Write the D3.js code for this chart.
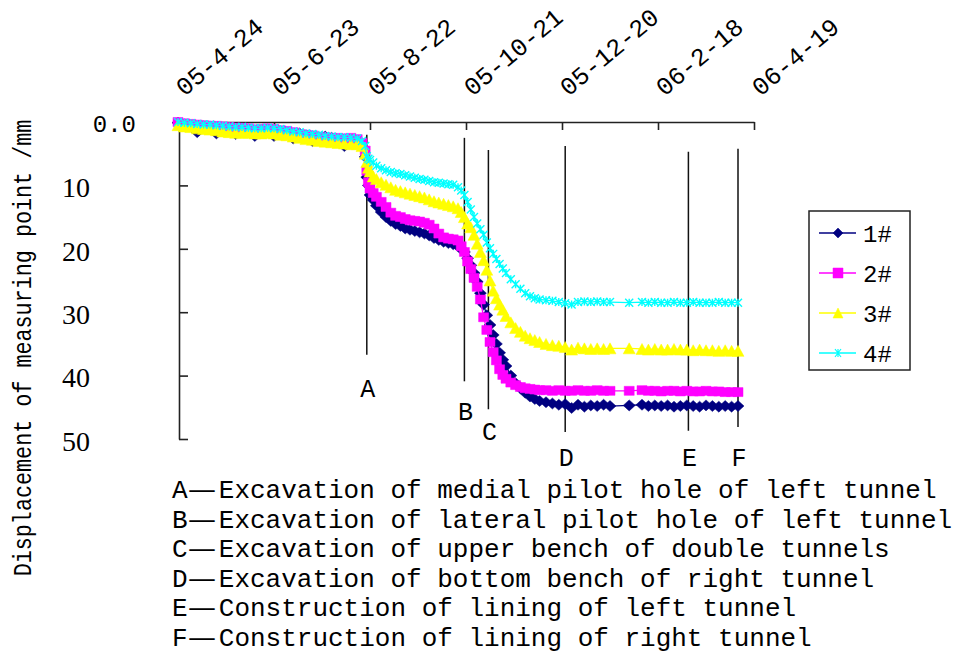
<!DOCTYPE html>
<html>
<head>
<meta charset="utf-8">
<script src="https://cdn.jsdelivr.net/npm/d3@7"></script>
<style>
  html, body { margin: 0; padding: 0; background: #fff; }
  svg { display: block; }
</style>
</head>
<body>
<svg id="chart" width="955" height="656"></svg>
<script>
// ---- Measurement data: surface settlement of four monitoring points ----
const startDate = new Date(2005, 3, 24);

// date axis: one tick every 60 days
const tickDays = [0, 60, 120, 180, 240, 300, 360];
const tickLabels = ["05-4-24", "05-6-23", "05-8-22", "05-10-21", "05-12-20", "06-2-18", "06-4-19"];

const yTicks = [0, 10, 20, 30, 40, 50];
const yTickLabels = ["0.0", "10", "20", "30", "40", "50"];

// survey days, counted from 2005-04-24
const days = [
  0, 4, 8, 12, 16, 20, 24, 28, 32, 36, 40, 44, 48, 52, 56, 60, 64, 68, 72, 76,
  80, 84, 88, 92, 96, 100, 104, 108, 112, 115,
  117, 118, 119, 120, 122, 124, 127, 130, 133, 136, 139, 142, 145, 148, 151, 154,
  157, 160, 163, 166, 169, 172, 175, 177, 179, 181, 183, 185, 187, 189, 191, 193,
  195, 197, 199, 201, 203, 205, 208, 211, 214, 217, 220, 223, 226, 230, 234, 238,
  242, 246, 250, 254, 258, 262, 266, 270, 282,
  290, 294, 298, 302, 306, 310, 314, 318, 322, 326, 330, 334, 338, 342, 346, 350
];

// displacement (mm) of each point
const point1 = [
  0.1, 0.4, 0.5, 1.6, 0.7, 0.8, 1.8, 0.9, 1.0, 1.9, 1.1, 1.2, 2.2, 1.3, 1.2, 2.2, 1.5, 1.6, 2.6, 1.8,
  2.1, 3.0, 2.5, 2.3, 2.5, 3.2, 3.8, 2.8, 3.0, 4.0,
  5.5, 8.7, 10.0, 11.5, 12.3, 13.2, 14.2, 15.0, 15.6, 16.1, 16.4, 16.8, 17.0, 17.2, 17.4, 17.6,
  17.9, 18.3, 18.6, 18.9, 19.1, 19.3, 19.6, 20.0, 20.5, 21.5, 22.6, 23.8, 25.2, 27.0, 28.8, 30.5,
  32.0, 33.6, 35.0, 36.4, 37.5, 38.5, 40.0, 41.2, 42.0, 42.7, 43.3, 43.7, 44.0, 44.2, 44.4, 44.6,
  44.5, 45.1, 44.6, 44.9, 44.7, 44.8, 44.6, 44.8, 44.7,
  44.6, 44.8, 44.7, 44.8, 44.7, 44.9, 44.8, 44.7, 44.8, 44.9, 44.7, 44.8, 44.9, 44.8, 44.9, 44.8
];
const point2 = [
  0.0, 0.2, 0.3, 0.4, 0.5, 0.6, 0.6, 0.7, 0.8, 0.9, 0.9, 1.0, 1.2, 1.1, 1.0, 1.1, 1.3, 1.4, 1.6, 1.9,
  2.0, 2.1, 2.3, 2.4, 2.5, 2.5, 2.6, 2.5, 2.7, 3.3,
  4.5, 7.7, 9.5, 10.5, 11.2, 11.8, 12.6, 13.4, 14.3, 14.8, 15.0, 15.3, 15.5, 15.6, 15.7, 15.9,
  16.2, 16.8, 17.6, 18.2, 18.4, 18.5, 18.7, 19.6, 20.5, 22.0, 23.2, 24.6, 26.0, 28.0, 30.8, 32.8,
  34.7, 36.3, 37.6, 39.0, 39.9, 40.5, 41.1, 41.5, 41.8, 42.0, 42.1, 42.2, 42.3, 42.3, 42.4, 42.3,
  42.4, 42.4, 42.3, 42.4, 42.4, 42.3, 42.4, 42.4, 42.4,
  42.3, 42.4, 42.4, 42.5, 42.4, 42.4, 42.5, 42.4, 42.5, 42.5, 42.4, 42.5, 42.5, 42.6, 42.6, 42.6
];
const point3 = [
  0.5, 0.7, 0.8, 1.0, 1.1, 1.2, 1.3, 1.5, 1.6, 1.7, 1.7, 1.7, 1.8, 1.8, 1.7, 1.8, 2.0, 2.1, 2.3, 2.5,
  2.7, 2.8, 3.0, 3.1, 3.2, 3.3, 3.4, 3.5, 3.5, 3.8,
  5.0, 6.3, 7.2, 7.8, 8.6, 9.0, 9.5, 9.9, 10.3, 10.7, 10.9, 11.1, 11.3, 11.5, 11.7, 11.9,
  12.2, 12.5, 12.7, 12.9, 13.1, 13.3, 13.6, 14.2, 15.0, 16.0, 16.6, 17.8, 19.2, 20.5, 21.8, 23.3,
  25.0, 26.6, 27.8, 28.8, 29.6, 30.6, 31.6, 32.5, 33.1, 33.7, 34.1, 34.4, 34.7, 35.0, 35.2, 35.3,
  35.5, 35.9, 35.6, 35.7, 35.8, 35.7, 35.8, 35.7, 35.7,
  35.8, 35.9, 35.8, 35.9, 35.9, 35.8, 35.9, 35.9, 36.0, 35.9, 36.0, 36.0, 36.1, 36.0, 36.1, 36.1
];
const point4 = [
  0.0, 0.1, 0.2, 0.3, 0.4, 0.4, 0.5, 0.6, 0.7, 0.8, 0.8, 0.9, 1.0, 1.0, 0.9, 1.0, 1.1, 1.3, 1.5, 1.6,
  1.8, 1.9, 2.0, 2.2, 2.3, 2.4, 2.4, 2.5, 2.6, 3.0,
  3.8, 5.4, 5.8, 6.0, 6.4, 6.9, 7.3, 7.6, 7.9, 8.1, 8.2, 8.4, 8.6, 8.8, 9.0, 9.1,
  9.3, 9.5, 9.6, 9.7, 9.8, 9.9, 10.3, 10.8, 11.5, 12.6, 13.8, 15.0, 16.0, 16.9, 17.8, 19.0,
  19.9, 20.8, 21.6, 22.4, 23.1, 23.8, 24.8, 25.6, 26.3, 27.0, 27.5, 27.8, 28.0, 28.1, 28.2, 28.4,
  28.6, 28.8, 28.4, 28.3, 28.4, 28.3, 28.4, 28.4, 28.5,
  28.4, 28.5, 28.4, 28.5, 28.5, 28.4, 28.5, 28.5, 28.4, 28.5, 28.5, 28.5, 28.4, 28.5, 28.5, 28.5
];

const seriesNames = ["1#", "2#", "3#", "4#"];
const seriesValues = [point1, point2, point3, point4];

// construction stages
const eventLetters = ["A", "B", "C", "D", "E", "F"];
const eventDays = [118, 179, 194, 242, 319, 350];
const eventDescriptions = [
  "Excavation of medial pilot hole of left tunnel",
  "Excavation of lateral pilot hole of left tunnel",
  "Excavation of upper bench of double tunnels",
  "Excavation of bottom bench of right tunnel",
  "Construction of lining of left tunnel",
  "Construction of lining of right tunnel"
];

// ---- Styling / layout ----
const seriesStyle = [
  { color: "#000080", marker: "diamond",  w: 12, h: 11 },
  { color: "#ff00ff", marker: "square",   w: 10, h: 9 },
  { color: "#ffff00", marker: "triangle", w: 12, h: 11 },
  { color: "#00ffff", marker: "star",     w: 8,  h: 8 }
];
// vertical extent (in mm) of each stage line and depth of its letter
const stageLayout = {
  top:    [2.0, 2.5, 4.4, 3.8, 4.7, 4.2],
  bottom: [36.7, 40.9, 45.3, 48.9, 48.7, 48.1],
  label:  [43.4, 47.0, 50.2, 54.3, 54.3, 54.3]
};
const mono = "'Liberation Mono', 'DejaVu Sans Mono', monospace";
const serif = "'Liberation Serif', 'DejaVu Serif', serif";

const svg = d3.select("#chart");
const dayToDate = d => d3.timeDay.offset(startDate, d);

const x = d3.scaleTime()
  .domain([dayToDate(0), dayToDate(360)])
  .range([178, 754]);
const y = d3.scaleLinear()
  .domain([0, 50])
  .range([122, 439]);

function markerPath(type, w, h) {
  const a = w / 2, b = h / 2;
  switch (type) {
    case "diamond":  return `M0,${-b}L${a},0L0,${b}L${-a},0Z`;
    case "square":   return `M${-a},${-b}H${a}V${b}H${-a}Z`;
    case "triangle": return `M0,${-b}L${a},${b}L${-a},${b}Z`;
    default:         return `M${-a},${-b}L${a},${b}M${-a},${b}L${a},${-b}M0,${-b}V${b}`;
  }
}

// ---- Axes ----
const topAxis = d3.axisTop(x)
  .tickValues(tickDays.map(dayToDate))
  .tickFormat((d, i) => tickLabels[i])
  .tickSizeInner(-8)
  .tickSizeOuter(0);
const gTop = svg.append("g").attr("transform", `translate(0,${y(0)})`).call(topAxis);
gTop.selectAll("path, line").attr("stroke", "#222").attr("stroke-width", 1.6);
gTop.selectAll("text")
  .attr("fill", "#000")
  .attr("font-family", mono)
  .attr("font-size", 25)
  .attr("text-anchor", "start")
  .attr("x", null).attr("y", null).attr("dy", null)
  .attr("transform", "translate(6,-25) rotate(-40)");

const leftAxis = d3.axisLeft(y)
  .tickValues(yTicks)
  .tickFormat((d, i) => yTickLabels[i])
  .tickSizeInner(-9)
  .tickSizeOuter(0);
const gLeft = svg.append("g").attr("transform", "translate(179,0)").call(leftAxis);
gLeft.selectAll("path, line").attr("stroke", "#222").attr("stroke-width", 1.6);
gLeft.selectAll(".tick").filter(d => d === 0).select("line").remove();
gLeft.selectAll("text")
  .attr("fill", "#000")
  .attr("font-family", (d, i) => i === 0 ? mono : serif)
  .attr("font-size", (d, i) => i === 0 ? 24 : 28)
  .attr("text-anchor", "end")
  .attr("x", (d, i) => i === 0 ? -43 : -89)
  .attr("dy", (d, i) => i === 0 ? "0.38em" : "0.4em");

// y-axis title
svg.append("text")
  .attr("transform", `translate(31,${(118 + 578) / 2}) rotate(-90) scale(0.87,1)`)
  .attr("text-anchor", "middle")
  .attr("font-family", mono)
  .attr("font-size", 25)
  .attr("fill", "#000")
  .text("Displacement of measuring point /mm");

// ---- Construction stage markers ----
const stages = svg.append("g");
eventDays.forEach((d, i) => {
  const xi = x(dayToDate(d));
  stages.append("line")
    .attr("x1", xi).attr("x2", xi)
    .attr("y1", y(stageLayout.top[i])).attr("y2", y(stageLayout.bottom[i]))
    .attr("stroke", "#111").attr("stroke-width", 1.5);
  stages.append("text")
    .attr("x", xi + 1).attr("y", y(stageLayout.label[i]))
    .attr("text-anchor", "middle")
    .attr("font-family", mono).attr("font-size", 25).attr("fill", "#000")
    .text(eventLetters[i]);
});

// ---- Series ----
const line = d3.line()
  .x(d => x(dayToDate(d.day)))
  .y(d => y(d.value));

seriesValues.forEach((vals, si) => {
  const st = seriesStyle[si];
  const pts = days.map((day, k) => ({ day, value: vals[k] }));
  const g = svg.append("g");
  g.append("path")
    .datum(pts)
    .attr("d", line)
    .attr("fill", "none")
    .attr("stroke", st.color)
    .attr("stroke-width", 1.3);
  const isStroke = st.marker === "star";
  g.selectAll("path.m")
    .data(pts)
    .join("path")
    .attr("class", "m")
    .attr("transform", d => `translate(${x(dayToDate(d.day))},${y(d.value)})`)
    .attr("d", markerPath(st.marker, st.w, st.h))
    .attr("fill", isStroke ? "none" : st.color)
    .attr("stroke", st.color)
    .attr("stroke-width", isStroke ? 1.4 : 0.5);
});

// ---- Legend ----
const legend = svg.append("g");
legend.append("rect")
  .attr("x", 809).attr("y", 211).attr("width", 101).attr("height", 159)
  .attr("fill", "#fff").attr("stroke", "#222").attr("stroke-width", 1.5);
seriesNames.forEach((name, i) => {
  const st = seriesStyle[i];
  const ly = 233 + i * 40;
  legend.append("line")
    .attr("x1", 819).attr("x2", 856).attr("y1", ly).attr("y2", ly)
    .attr("stroke", st.color).attr("stroke-width", 1.5);
  const isStroke = st.marker === "star";
  legend.append("path")
    .attr("transform", `translate(838,${ly})`)
    .attr("d", markerPath(st.marker, isStroke ? 6 : 10, isStroke ? 8 : 10))
    .attr("fill", isStroke ? "none" : st.color)
    .attr("stroke", st.color)
    .attr("stroke-width", isStroke ? 1.2 : 0.5);
  legend.append("text")
    .attr("x", 863).attr("y", ly).attr("dy", "0.36em")
    .attr("font-family", mono).attr("font-size", 24).attr("fill", "#000")
    .text(name);
});

// ---- Stage descriptions ----
const notes = svg.append("g")
  .attr("font-family", mono).attr("font-size", 26).attr("fill", "#000");
const adv = 15.6;
eventLetters.forEach((L, i) => {
  const by = 498 + i * 29.5;
  notes.append("text").attr("x", 172).attr("y", by).text(L);
  notes.append("text")
    .attr("x", 172 + adv + 2).attr("y", by)
    .attr("textLength", 25).attr("lengthAdjust", "spacingAndGlyphs")
    .text("—");
  notes.append("text").attr("x", 172 + 3 * adv).attr("y", by).text(eventDescriptions[i]);
});
</script>
</body>
</html>
